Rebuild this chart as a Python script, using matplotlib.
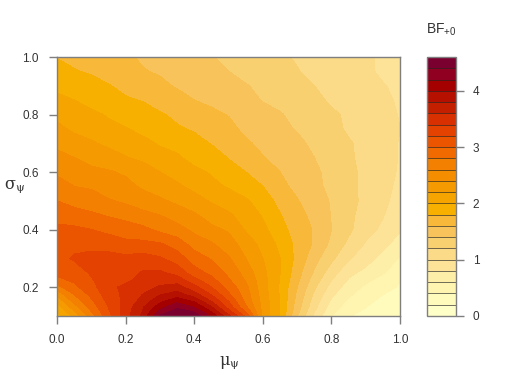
import numpy as np
import matplotlib
matplotlib.use('Agg')
import matplotlib.pyplot as plt
from matplotlib.colors import ListedColormap, BoundaryNorm

plt.rcParams['font.family'] = ['Liberation Sans', 'DejaVu Sans']
plt.rcParams['mathtext.fontset'] = 'custom'
plt.rcParams['mathtext.rm'] = 'Liberation Sans'

mu = [0, .05, .1, .15, .2, .25, .3, .35, .4, .45, .5, .55, .6, .65, .7, .75, .8, .85, .9, .95, 1]
sigma = [.1, .115, .13, .15, .175, .2, .225, .25, .3, .35, .4, .45, .5, .55, .6, .65, .7, .75, .8, .85, .9, .95, 1]

bf = [
    [1.9, 2.25, 2.7, 3.13, 3.5, 3.85, 4.42, 4.58, 4.53, 4.15, 3.65, 3.15, 2.35, 1.98, 1.4, .95, .6, .41, .33, .27, .22],
    [1.98, 2.37, 2.79, 3.16, 3.5, 3.8, 4.25, 4.5, 4.38, 3.98, 3.47, 2.98, 2.34, 1.98, 1.45, 1.0, .65, .46, .36, .3, .25],
    [2.06, 2.49, 2.87, 3.2, 3.48, 3.78, 4.12, 4.36, 4.2, 3.82, 3.32, 2.84, 2.33, 1.98, 1.49, 1.05, .7, .5, .4, .32, .27],
    [2.22, 2.65, 2.95, 3.25, 3.45, 3.68, 3.95, 4.14, 3.98, 3.6, 3.2, 2.75, 2.32, 1.98, 1.52, 1.1, .76, .55, .44, .35, .3],
    [2.46, 2.8, 3.05, 3.3, 3.45, 3.6, 3.78, 3.88, 3.68, 3.38, 3.03, 2.7, 2.3, 1.98, 1.56, 1.16, .84, .63, .5, .4, .34],
    [2.72, 2.95, 3.12, 3.35, 3.44, 3.53, 3.62, 3.68, 3.46, 3.2, 2.92, 2.65, 2.28, 1.97, 1.6, 1.23, .92, .7, .56, .46, .38],
    [2.95, 3.03, 3.18, 3.31, 3.36, 3.46, 3.53, 3.5, 3.26, 3.06, 2.82, 2.58, 2.27, 1.99, 1.64, 1.3, 1.0, .78, .64, .53, .41],
    [3.05, 3.1, 3.22, 3.28, 3.3, 3.42, 3.43, 3.33, 3.08, 2.95, 2.75, 2.52, 2.25, 2.0, 1.68, 1.37, 1.08, .85, .74, .61, .45],
    [3.14, 3.22, 3.25, 3.28, 3.25, 3.28, 3.22, 3.1, 2.9, 2.78, 2.62, 2.4, 2.2, 2.0, 1.74, 1.47, 1.24, 1.02, .88, .73, .585],
    [3.1, 3.15, 3.15, 3.1, 3.05, 3.05, 3.02, 2.9, 2.72, 2.62, 2.5, 2.3, 2.14, 1.95, 1.74, 1.57, 1.35, 1.15, .98, .85, .71],
    [3.05, 3.04, 3.0, 2.95, 2.9, 2.85, 2.75, 2.68, 2.55, 2.45, 2.37, 2.18, 2.05, 1.87, 1.71, 1.58, 1.4, 1.24, 1.07, .96, .82],
    [2.92, 2.88, 2.84, 2.78, 2.73, 2.66, 2.6, 2.5, 2.43, 2.31, 2.23, 2.12, 1.98, 1.81, 1.67, 1.54, 1.39, 1.25, 1.11, 1.01, .87],
    [2.8, 2.73, 2.67, 2.62, 2.56, 2.49, 2.43, 2.36, 2.27, 2.18, 2.1, 2.03, 1.9, 1.74, 1.61, 1.5, 1.38, 1.26, 1.15, 1.04, .93],
    [2.68, 2.6, 2.58, 2.49, 2.46, 2.37, 2.31, 2.23, 2.15, 2.05, 1.98, 1.88, 1.8, 1.64, 1.56, 1.44, 1.36, 1.25, 1.15, 1.05, .96],
    [2.57, 2.51, 2.46, 2.42, 2.37, 2.29, 2.2, 2.13, 2.05, 1.98, 1.89, 1.8, 1.72, 1.6, 1.52, 1.43, 1.35, 1.25, 1.15, 1.06, .98],
    [2.46, 2.4, 2.31, 2.28, 2.21, 2.16, 2.07, 2.03, 1.93, 1.89, 1.79, 1.72, 1.61, 1.54, 1.45, 1.4, 1.3, 1.24, 1.12, 1.06, .99],
    [2.35, 2.29, 2.22, 2.16, 2.11, 2.05, 1.98, 1.93, 1.86, 1.79, 1.72, 1.63, 1.55, 1.49, 1.43, 1.37, 1.3, 1.22, 1.14, 1.06, .99],
    [2.25, 2.16, 2.13, 2.05, 2.01, 1.95, 1.9, 1.82, 1.78, 1.69, 1.66, 1.55, 1.5, 1.43, 1.39, 1.31, 1.26, 1.17, 1.13, 1.04, 1.0],
    [2.15, 2.09, 2.04, 1.98, 1.93, 1.88, 1.82, 1.76, 1.71, 1.64, 1.59, 1.51, 1.46, 1.41, 1.36, 1.3, 1.23, 1.17, 1.11, 1.05, .99],
    [2.05, 2.0, 1.93, 1.89, 1.82, 1.79, 1.71, 1.67, 1.6, 1.56, 1.49, 1.46, 1.39, 1.36, 1.29, 1.25, 1.17, 1.14, 1.06, 1.03, .98],
    [1.95, 1.91, 1.86, 1.81, 1.75, 1.70, 1.64, 1.58, 1.54, 1.49, 1.44, 1.41, 1.36, 1.31, 1.25, 1.2, 1.15, 1.10, 1.05, 1.01, .96],
    [1.87, 1.81, 1.78, 1.71, 1.68, 1.61, 1.58, 1.51, 1.48, 1.43, 1.4, 1.34, 1.32, 1.25, 1.21, 1.14, 1.12, 1.05, 1.03, .97, .95],
    [1.79, 1.76, 1.71, 1.67, 1.62, 1.58, 1.53, 1.48, 1.44, 1.41, 1.36, 1.32, 1.28, 1.23, 1.18, 1.13, 1.09, 1.05, 1.02, .98, .95],
]

mu_ticks = [0, .2, .4, .6, .8, 1]
sigma_ticks = [.2, .4, .6, .8, 1]
bar_ticks = [0, 1, 2, 3, 4]

levels = np.linspace(0, 4.6, 24)
colors = ['#FFFFC8', '#FFFBBC', '#FFF5B0', '#FEEFA8', '#FDE398', '#FBDA88', '#F9D070', '#F8C35A',
          '#F8B83A', '#F8B000', '#F6A500', '#F59A00', '#F48E00', '#F38000', '#F06A00', '#EC5500',
          '#E44200', '#D83000', '#C42000', '#B51000', '#A50000', '#900020', '#7A0030']
GREY = '#7f7f7f'
W, H = 512, 387

fig = plt.figure(figsize=(W / 100, H / 100), dpi=100)
ax = fig.add_axes([57 / W, 1 - 316 / H, 343 / W, 259 / H])
cax = fig.add_axes([427 / W, 1 - 316 / H, 29 / W, 259 / H])

cmap = ListedColormap(colors)
norm = BoundaryNorm(levels, cmap.N)
cs = ax.contourf(mu, sigma, bf, levels=levels, cmap=cmap, norm=norm)
cs.set_edgecolor('face')
cs.set_linewidth(0.3)
ax.set_xlim(0, 1)
ax.set_ylim(0.1, 1)
ax.set_xticks(mu_ticks)
ax.set_yticks(sigma_ticks)
ax.set_xticklabels(['%.1f' % t for t in mu_ticks])
ax.set_yticklabels(['%.1f' % t for t in sigma_ticks])
ax.tick_params(axis='both', labelsize=8.5, length=6, width=1, color=GREY, labelcolor='#333333', pad=7)

cb = fig.colorbar(cs, cax=cax, ticks=bar_ticks, drawedges=True)
cb.ax.minorticks_off()
cb.dividers.set_color('#222222')
cb.dividers.set_linewidth(0.6)
cb.dividers.set_alpha(0.75)
cb.ax.tick_params(labelsize=8.5, length=6, width=1, color=GREY, labelcolor='#333333', pad=6)
cb.outline.set_edgecolor(GREY)
cb.outline.set_linewidth(1)

for s in ax.spines.values():
    s.set_edgecolor(GREY)
    s.set_linewidth(1)

fig.text(229 / W, 1 - 363 / H, r'$\mathrm{\mu_{\psi}}$', ha='center', va='center', fontsize=11.5, color='#333333', math_fontfamily='dejavuserif')
fig.text(15 / W, 1 - 187 / H, r'$\mathrm{\sigma_{\psi}}$', ha='center', va='center', fontsize=11.5, color='#333333', math_fontfamily='dejavuserif')
fig.text(426 / W, 1 - 30 / H, r'BF$_{\mathrm{+0}}$', ha='left', va='center', fontsize=10, color='#333333')

fig.savefig('out.png', dpi=100)
